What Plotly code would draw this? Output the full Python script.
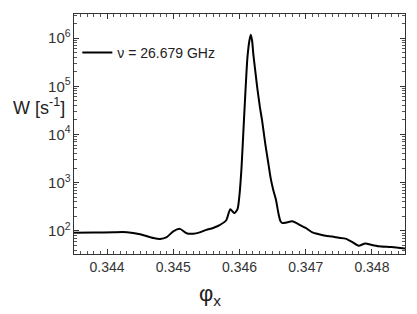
import plotly.graph_objects as go

phi_x = [0.3435, 0.3438, 0.3441, 0.3443, 0.3445, 0.3447, 0.3448, 0.3449, 0.3450, 0.3451,
         0.3452, 0.3453, 0.3454, 0.3455, 0.3456, 0.3457, 0.3458, 0.34586, 0.34592, 0.34597,
         0.34600, 0.34603, 0.34606, 0.34609, 0.34612, 0.34615, 0.34617, 0.34619, 0.34621, 0.34624,
         0.34627, 0.34631, 0.34634, 0.34639, 0.34643, 0.34647, 0.34651, 0.34655, 0.34659, 0.34662,
         0.34665, 0.34670, 0.34680, 0.34690, 0.34700, 0.34710, 0.34720, 0.34730, 0.34740, 0.34750,
         0.34760, 0.34770, 0.34780, 0.34790, 0.34800, 0.34810, 0.34830, 0.34850]
W = [91, 92, 94, 94, 85, 71, 68, 74, 98, 110,
     89, 87, 93, 105, 115, 132, 166, 282, 234, 282,
     562, 2000, 12600, 79400, 398000, 891000, 1175000, 891000, 447000, 200000,
     89100, 35500, 20000, 6310, 2820, 1260, 708, 447, 224, 158,
     145, 148, 158, 135, 115, 93, 85, 79, 76, 72,
     69, 59, 49, 55, 51, 48, 46, 43]
series_name = "ν = 26.679 GHz"
x_tick_vals = [0.344, 0.345, 0.346, 0.347, 0.348]
x_tick_text = ["0.344", "0.345", "0.346", "0.347", "0.348"]

FONT = "Liberation Sans, Arial, sans-serif"

fig = go.Figure()
fig.add_trace(go.Scatter(x=phi_x, y=W, mode="lines", name=series_name,
                         line=dict(color="black", width=2, shape="spline", smoothing=0.6)))

# page body has an 8px margin; figure size/margins compensate for it
fig.update_layout(
    width=409, height=306,
    margin=dict(l=66, r=12, t=6, b=60),
    paper_bgcolor="white", plot_bgcolor="white",
    font=dict(family=FONT, size=12, color="#222"),
    showlegend=True,
    legend=dict(x=0.01, y=0.905, xanchor="left", yanchor="top",
                bgcolor="rgba(0,0,0,0)", font=dict(size=14, color="#222"),
                itemwidth=30),
)
fig.update_xaxes(range=[0.3435, 0.3485], tickvals=x_tick_vals, ticktext=x_tick_text,
                 ticks="inside", ticklen=5, tickcolor="#333", automargin=False,
                 showline=True, linecolor="#333", linewidth=1, mirror="ticks",
                 showgrid=False, zeroline=False,
                 tickfont=dict(size=14, color="#333"),
                 minor=dict(dtick=0.0001, tick0=0.344, ticks="inside", ticklen=3, tickcolor="#555", showgrid=False))
fig.update_yaxes(type="log", range=[1.52, 6.5], dtick=1, exponentformat="power",
                 ticks="inside", ticklen=5, tickcolor="#333", automargin=False,
                 showline=True, linecolor="#333", linewidth=1, mirror="ticks",
                 showgrid=False, zeroline=False,
                 tickfont=dict(size=12, color="#333"),
                 minor=dict(dtick="D1", ticks="inside", ticklen=3, tickcolor="#555", showgrid=False))

fig.add_annotation(text="W [s<sup>-1</sup>]", xref="paper", yref="paper",
                   x=-0.021, y=0.6125, xanchor="right", yanchor="middle", showarrow=False,
                   font=dict(size=18, color="#222", family=FONT))
fig.add_annotation(text="φ<sub>x</sub>", xref="paper", yref="paper",
                   x=0.41, y=-0.17, xanchor="center", yanchor="middle", showarrow=False,
                   font=dict(size=22, color="#222", family=FONT))

fig.write_html("out.html")
